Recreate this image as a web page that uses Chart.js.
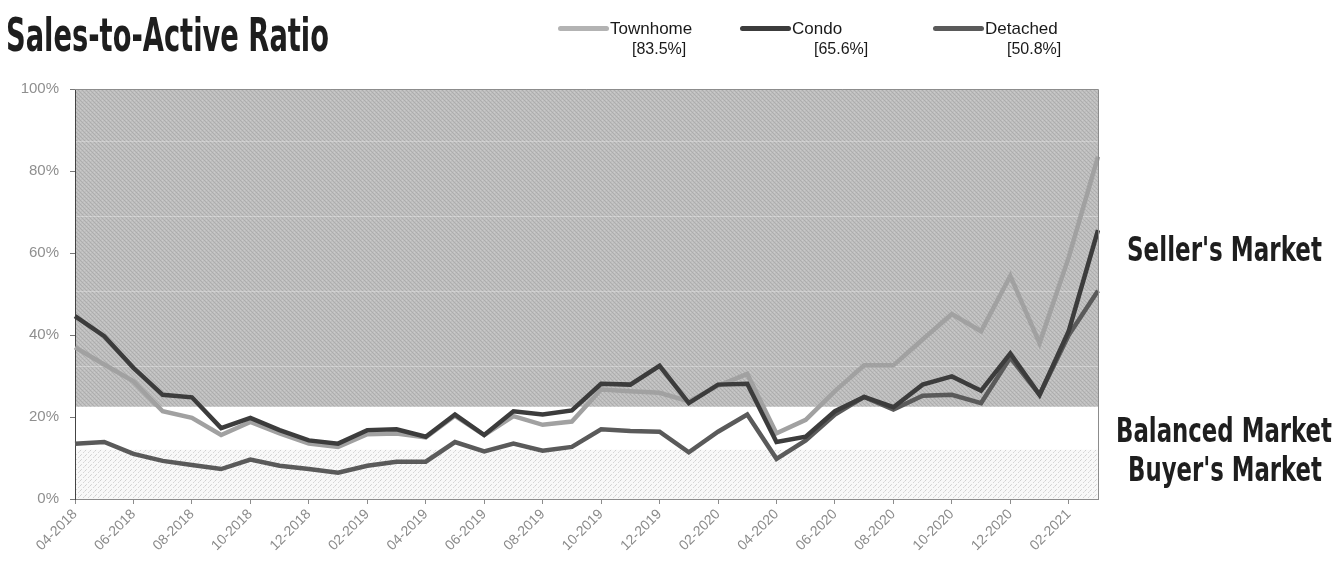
<!DOCTYPE html>
<html><head><meta charset="utf-8">
<script src="https://cdn.jsdelivr.net/npm/chart.js@4.4.1/dist/chart.umd.min.js"></script>
<style>
html,body{margin:0;padding:0;background:#fff;}
#wrap{position:relative;width:1336px;height:563px;overflow:hidden;font-family:"Liberation Sans",Arial,sans-serif;}
#c{position:absolute;left:0;top:0;}
.fit{position:absolute;white-space:nowrap;transform-origin:0 0;font-weight:bold;color:#1e1e1e;line-height:1;font-family:"Liberation Sans Narrow","DejaVu Sans Condensed","Liberation Sans",Arial,sans-serif;}
.lg{position:absolute;white-space:nowrap;color:#1a1a1a;font-size:17px;line-height:1;}
.sw{position:absolute;height:5px;border-radius:3px;}
</style></head>
<body><div id="wrap">
<canvas id="c" width="1336" height="563"></canvas>
<div class="fit" id="title" data-w="323" style="left:6px;top:12px;font-size:46px;">Sales-to-Active Ratio</div>
<div class="fit" id="sell" data-w="195" style="left:1127px;top:233px;font-size:33px;">Seller's Market</div>
<div class="fit" id="bal" data-w="216" style="left:1116px;top:414px;font-size:33px;">Balanced Market</div>
<div class="fit" id="buy" data-w="194" style="left:1128px;top:453px;font-size:33px;">Buyer's Market</div>
<div id="legend"></div>
</div>
<script>
// ---- data ----
const months = ['04-2018','05-2018','06-2018','07-2018','08-2018','09-2018','10-2018','11-2018','12-2018',
  '01-2019','02-2019','03-2019','04-2019','05-2019','06-2019','07-2019','08-2019','09-2019','10-2019','11-2019','12-2019',
  '01-2020','02-2020','03-2020','04-2020','05-2020','06-2020','07-2020','08-2020','09-2020','10-2020','11-2020','12-2020',
  '01-2021','02-2021','03-2021'];
const seriesNames = ['Townhome','Condo','Detached'];
const townhome = [37.0,32.8,28.7,21.4,19.8,15.6,18.8,16.0,13.5,12.7,15.8,16.0,15.0,20.3,15.6,20.2,18.1,18.9,26.7,26.3,25.9,23.8,27.6,30.5,16.0,19.3,26.3,32.6,32.6,38.9,45.1,40.9,54.4,38.0,59.0,83.5];
const condo    = [44.6,39.7,32.0,25.4,24.8,17.3,19.8,16.8,14.3,13.5,16.8,17.0,15.2,20.6,15.6,21.4,20.6,21.6,28.1,27.9,32.5,23.4,27.9,28.1,13.9,15.2,21.4,24.9,22.4,27.9,29.9,26.4,35.5,25.4,41.0,65.6];
const detached = [13.5,13.9,11.0,9.3,8.3,7.3,9.6,8.1,7.3,6.4,8.1,9.1,9.1,13.9,11.6,13.5,11.8,12.7,17.0,16.6,16.4,11.4,16.4,20.6,9.8,14.3,20.6,24.9,21.8,25.2,25.4,23.4,34.5,25.4,40.0,50.8];
const latestLabels = ['[83.5%]','[65.6%]','[50.8%]'];
const yTickValues = [0,20,40,60,80,100];
const sellerMin = 22.5;   // seller's market zone starts
const buyerMax = 12;      // buyer's market zone ends
const faintGridValues = [32.2,50.5,68.8,87.1]; // faint white lines in the seller zone

// ---- styles ----
const colors = ['#a1a1a1','#3c3c3c','#5a5a5a'];

function makePattern(base, dots, size){
  const c=document.createElement('canvas'); c.width=size; c.height=size;
  const x=c.getContext('2d'); x.fillStyle=base; x.fillRect(0,0,size,size);
  dots.forEach(d=>{x.fillStyle=d[2]; x.fillRect(d[0],d[1],1,1);});
  return x.createPattern(c,'repeat');
}
const grayPat = makePattern('#bebebe',[[0,0,'#acacac'],[1,1,'#aeaeae'],[2,2,'#acacac'],[3,3,'#afafaf'],[2,0,'#cacaca'],[0,2,'#c8c8c8']],4);
const dotPat = makePattern('#f8f8f8',[[0,0,'#cfcfcf'],[3,2,'#d6d6d6'],[1,4,'#dadada'],[4,1,'#e2e2e2']],5);

const zones = {
  id:'zones',
  beforeDraw(chart){
    const {ctx, chartArea:a, scales:{y}} = chart;
    const ys=y.getPixelForValue(sellerMin), yb=y.getPixelForValue(buyerMax);
    ctx.save();
    ctx.fillStyle=grayPat; ctx.fillRect(a.left,a.top,a.right-a.left,ys-a.top);
    ctx.fillStyle=dotPat; ctx.fillRect(a.left,yb,a.right-a.left,a.bottom-yb);
    ctx.restore();
  },
  afterDraw(chart){
    const {ctx, chartArea:a} = chart;
    ctx.save(); ctx.strokeStyle='#8c8c8c'; ctx.lineWidth=1;
    ctx.beginPath(); ctx.moveTo(a.left,a.top+0.5); ctx.lineTo(a.right+0.5,a.top+0.5); ctx.lineTo(a.right+0.5,a.bottom); ctx.stroke();
    ctx.restore();
  }
};

const dataArrays=[townhome,condo,detached];
new Chart(document.getElementById('c'),{
  type:'line',
  data:{labels:months,datasets:seriesNames.map((n,i)=>({
    label:n,data:dataArrays[i],borderColor:colors[i],backgroundColor:colors[i],
    borderWidth:4.5,pointRadius:0,tension:0,fill:false,order:[2,0,1][i],borderJoinStyle:'miter'
  }))},
  options:{
    responsive:false,animation:false,
    layout:{padding:{left:0,top:89,right:238,bottom:0}},
    plugins:{legend:{display:false},tooltip:{enabled:false}},
    scales:{
      x:{type:'category',offset:false,
        afterFit(s){s.height=64;},
        grid:{display:true,drawOnChartArea:false,tickLength:5,color:c=>c.index%2===0?'#8c8c8c':'rgba(0,0,0,0)'},
        border:{display:true,color:'#8c8c8c'},
        ticks:{autoSkip:false,maxRotation:45,minRotation:45,color:'#8a8a8a',padding:2,
          font:{family:'"Liberation Sans",Arial',size:14},
          callback:(v,i)=>i%2===0?months[i]:''}
      },
      y:{min:0,max:100,
        afterFit(s){s.width=75;},
        afterBuildTicks(s){s.ticks=yTickValues.map(v=>({value:v}));},
        grid:{display:true,drawOnChartArea:false,tickLength:5,color:'#777'},
        border:{display:true,color:'#444'},
        ticks:{color:'#8f8f8f',padding:11,font:{family:'"Liberation Sans",Arial',size:15},callback:v=>v+'%'}
      },
      yFaint:{min:0,max:100,position:'right',display:true,
        afterFit(s){s.width=0;},
        afterBuildTicks(s){s.ticks=faintGridValues.map(v=>({value:v}));},
        grid:{drawOnChartArea:true,drawTicks:false,color:'rgba(255,255,255,0.3)',lineWidth:1},
        border:{display:false},
        ticks:{display:false}
      }
    }
  },
  plugins:[zones]
});

// ---- legend (HTML) ----
const lg=document.getElementById('legend');
const legendX=[558,740,933];
seriesNames.forEach((n,i)=>{
  const sw=document.createElement('div'); sw.className='sw';
  sw.style.left=legendX[i]+'px'; sw.style.top='26px'; sw.style.width='51px'; sw.style.background=colors[i];
  if(i===0) sw.style.background='#b3b3b3';
  lg.appendChild(sw);
  const t=document.createElement('div'); t.className='lg'; t.textContent=n;
  t.style.left=(legendX[i]+52)+'px'; t.style.top='20px'; lg.appendChild(t);
  const b=document.createElement('div'); b.className='lg'; b.textContent=latestLabels[i];
  b.style.left=(legendX[i]+74)+'px'; b.style.top='41px'; b.style.fontSize='16px'; lg.appendChild(b);
});

// fit condensed bold labels to measured widths
document.querySelectorAll('.fit').forEach(el=>{
  const w=+el.dataset.w; const r=el.getBoundingClientRect().width;
  el.style.transform='scaleX('+(w/r)+')';
});
</script>
</body></html>
